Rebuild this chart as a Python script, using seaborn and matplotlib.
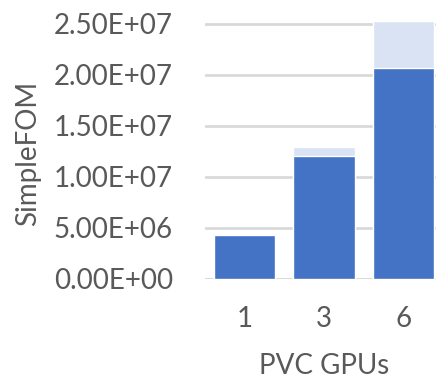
import matplotlib
matplotlib.use("Agg")
import matplotlib.pyplot as plt
import seaborn as sns
import pandas as pd

# SimpleFOM by number of PVC GPUs (base portion and additional headroom)
gpus = ["1", "3", "6"]
base_fom = [4.3e6, 1.2e7, 2.07e7]
extra_fom = [0.0, 0.92e6, 4.6e6]
y_ticks = [0, 5e6, 1e7, 1.5e7, 2e7, 2.5e7]
y_tick_labels = ["0.00E+00", "5.00E+06", "1.00E+07", "1.50E+07", "2.00E+07", "2.50E+07"]

df = pd.DataFrame({
    "gpus": gpus,
    "base": base_fom,
    "total": [b + e for b, e in zip(base_fom, extra_fom)],
})

sns.set_theme(style="white")
plt.rcParams["font.family"] = ["Lato", "DejaVu Sans"]

text_color = "#595959"
fs = 20
fig = plt.figure(figsize=(4.36, 3.79), dpi=100)
ax = fig.add_axes([205 / 436, 100.3 / 379, 238 / 436, 265 / 379])

sns.barplot(data=df, x="gpus", y="total", color="#DAE3F3", saturation=1,
            width=0.77, ax=ax, zorder=2)
sns.barplot(data=df, x="gpus", y="base", color="#4472C4", saturation=1,
            width=0.77, ax=ax, zorder=3)

ax.set_xlim(-0.5, 2.5)
ax.set_ylim(0, 2.6e7)
ax.set_yticks(y_ticks)
ax.set_yticklabels(y_tick_labels)
ax.yaxis.grid(True, color="#D9D9D9", linewidth=2)
ax.set_axisbelow(True)
for s in ax.spines.values():
    s.set_visible(False)
ax.axhline(0, color="#D9D9D9", linewidth=2, zorder=1)

ax.tick_params(axis="y", length=0, pad=23, labelsize=fs, labelcolor=text_color)
ax.tick_params(axis="x", length=0, pad=20, labelsize=fs, labelcolor=text_color)
ax.set_xlabel("PVC GPUs", fontsize=fs, color=text_color)
ax.set_ylabel("SimpleFOM", fontsize=fs, color=text_color)
ax.xaxis.set_label_coords(0.5, -0.28)
ax.yaxis.set_label_coords(-0.69, 0.474)

fig.savefig("out.png", dpi=100)
